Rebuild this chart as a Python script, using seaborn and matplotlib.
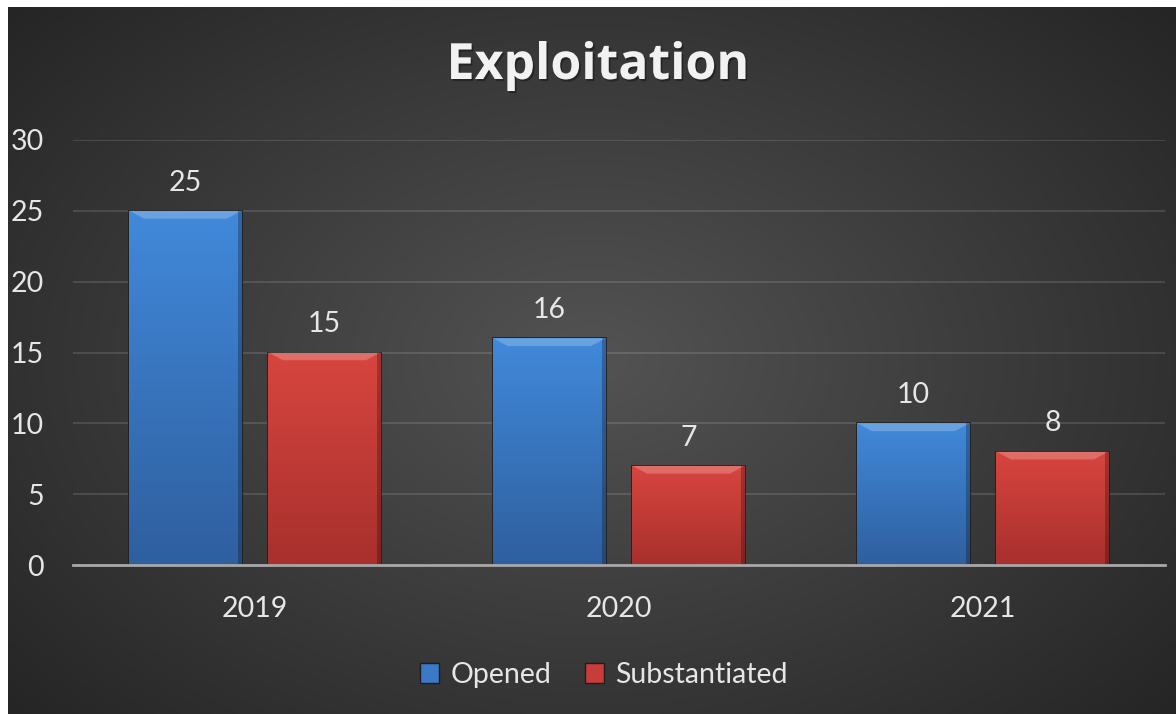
import numpy as np
import pandas as pd
import matplotlib
matplotlib.use("Agg")
import matplotlib.pyplot as plt
import matplotlib.patheffects as pe
import seaborn as sns
from matplotlib.patches import Polygon

# dados do grafico
anos = ["2019", "2020", "2021"]
series = ["Opened", "Substantiated"]
opened = [25, 16, 10]
substantiated = [15, 7, 8]
yticks = [0, 5, 10, 15, 20, 25, 30]
titulo = "Exploitation"

df = pd.DataFrame({
    "Ano": anos * 2,
    "Serie": [series[0]] * 3 + [series[1]] * 3,
    "Valor": opened + substantiated,
})

sns.set_theme(style="dark")
plt.rcParams["font.family"] = ["Lato", "DejaVu Sans"]

cores = {"Opened": "#3a78c8", "Substantiated": "#c83c3a"}
topo = {"Opened": "#4189da", "Substantiated": "#d8453f"}
base = {"Opened": "#2f5f9f", "Substantiated": "#a8302d"}
fs = 20.5

fig = plt.figure(figsize=(11.76, 7.14), dpi=100)
fig.patch.set_facecolor("white")

# fundo com gradiente radial
bg = fig.add_axes([8 / 1176, 0, 1 - 8 / 1176, 1 - 7 / 714])
bg.set_axis_off()
yy, xx = np.mgrid[-1:1:300j, -1:1:500j]
r = np.sqrt(xx ** 2 + (yy * 0.9) ** 2)
grad = np.clip(1 - r / 1.35, 0, 1)
bg.imshow(grad, cmap=matplotlib.colors.LinearSegmentedColormap.from_list("g", ["#252525", "#535353"]),
          aspect="auto", extent=[0, 1, 0, 1], vmin=0, vmax=1)
bg.set_xlim(0, 1)
bg.set_ylim(0, 1)

ax = fig.add_axes([73 / 1176, 149 / 714, 1092 / 1176, 425 / 714])
ax.patch.set_alpha(0)

sns.barplot(data=df, x="Ano", y="Valor", hue="Serie", palette=cores,
            width=0.764, gap=0.194, ax=ax, legend=False, zorder=3)

ax.set_ylim(0, 30)
ax.set_yticks(yticks)
ax.set_xlim(-0.5, 2.5)
ax.set_xlabel("")
ax.set_ylabel("")
for s in ["top", "right", "left"]:
    ax.spines[s].set_visible(False)
ax.spines["bottom"].set_color("#a8a8a8")
ax.spines["bottom"].set_linewidth(2)
ax.spines["bottom"].set_zorder(5)
ax.yaxis.grid(True, color="white", alpha=0.12, linewidth=1.5)
ax.xaxis.grid(False)
ax.tick_params(axis="y", length=0, pad=21, labelsize=fs, labelcolor="#e6e6e6")
ax.tick_params(axis="x", length=0, pad=22, labelsize=fs, labelcolor="#e6e6e6")

# gradiente e chanfro nas barras
gcol = np.linspace(0, 1, 100).reshape(-1, 1)
for cont, nome in zip(ax.containers, series):
    cmap = matplotlib.colors.LinearSegmentedColormap.from_list(nome, [base[nome], topo[nome]])
    for p in cont:
        x0, y0, w, h = p.get_x(), p.get_y(), p.get_width(), p.get_height()
        p.set_edgecolor("#1e1e1e")
        p.set_linewidth(1.2)
        im = ax.imshow(gcol, cmap=cmap, extent=[x0, x0 + w, y0, y0 + h], origin="lower",
                       aspect="auto", zorder=3.5)
        im.set_clip_path(p)
        bw = w * 0.13
        bh = 0.55
        ax.add_patch(Polygon([[x0, y0 + h], [x0 + w, y0 + h], [x0 + w - bw, y0 + h - bh], [x0 + bw, y0 + h - bh]],
                             closed=True, facecolor="white", alpha=0.22, edgecolor="none", zorder=4))
        ax.add_patch(Polygon([[x0 + w, y0 + h], [x0 + w, y0], [x0 + w - w * 0.03, y0], [x0 + w - w * 0.03, y0 + h]],
                             closed=True, facecolor="black", alpha=0.25, edgecolor="none", zorder=4))
    ax.bar_label(cont, padding=11, fontsize=fs, color="#e6e6e6")
ax.set_xlim(-0.5, 2.5)
ax.set_ylim(0, 30)

t = fig.text(598 / 1176, 1 - 66 / 714, titulo, ha="center", va="center", fontsize=36,
             fontweight="bold", color="#f2f2f2", family=["Open Sans", "DejaVu Sans"])
t.set_path_effects([pe.withSimplePatchShadow(offset=(1.2, -1.5), shadow_rgbFace="black", alpha=0.35)])

handles = [matplotlib.patches.Patch(facecolor=cores[s], edgecolor="#1e1e1e", label=s) for s in series]
fig.legend(handles=handles, loc="center", bbox_to_anchor=(604 / 1176, 1 - 675 / 714), ncol=2,
           frameon=False, fontsize=fs, labelcolor="#e6e6e6", handlelength=0.65, handleheight=0.65,
           handletextpad=0.4, columnspacing=1.2)

fig.savefig("out.png", dpi=100, facecolor=fig.get_facecolor())
